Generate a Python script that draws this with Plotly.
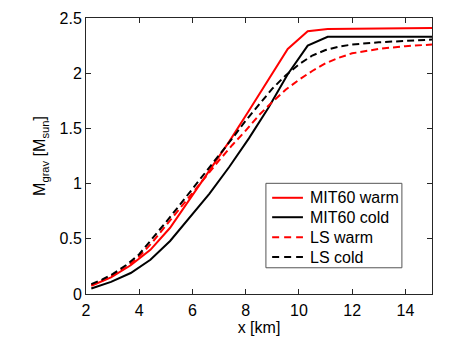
import plotly.graph_objects as go

# MIT60 curves (coarse grid)
x_mit = [2.2, 2.94, 3.68, 4.42, 5.16, 5.9, 6.64, 7.38, 8.12, 8.86, 9.58, 10.33, 11.08, 15.0]
mit60_warm = [0.075, 0.15, 0.26, 0.40, 0.60, 0.86, 1.11, 1.38, 1.66, 1.95, 2.22, 2.38, 2.40, 2.41]
mit60_cold = [0.05, 0.11, 0.19, 0.31, 0.48, 0.69, 0.91, 1.15, 1.41, 1.69, 1.99, 2.25, 2.33, 2.33]

# LS curves (finer grid)
x_ls = [2.2, 2.6, 3.0, 3.5, 4.0, 4.5, 5.0, 5.5, 6.0, 6.5, 7.0, 7.5, 8.0, 8.5, 9.0, 9.5,
        10.0, 10.5, 11.0, 11.5, 12.0, 13.0, 14.0, 15.0]
ls_warm = [0.08, 0.12, 0.17, 0.24, 0.34, 0.47, 0.62, 0.77, 0.92, 1.07, 1.21, 1.35, 1.48, 1.62,
           1.74, 1.85, 1.94, 2.02, 2.09, 2.14, 2.18, 2.22, 2.245, 2.26]
ls_cold = [0.09, 0.13, 0.18, 0.26, 0.36, 0.50, 0.65, 0.80, 0.95, 1.10, 1.25, 1.41, 1.57, 1.72,
           1.86, 1.98, 2.08, 2.16, 2.21, 2.24, 2.26, 2.28, 2.295, 2.305]

series_names = ["MIT60 warm", "MIT60 cold", "LS warm", "LS cold"]
x_ticks = [2, 4, 6, 8, 10, 12, 14]
y_ticks = [0, 0.5, 1, 1.5, 2, 2.5]
y_ticklabels = ["0", "0.5", "1", "1.5", "2", "2.5"]

FONT = "Liberation Sans, Arial, Helvetica, sans-serif"
RED, BLACK = "#ff0000", "#000000"

series = [
    (x_mit, mit60_warm, RED, "solid"),
    (x_mit, mit60_cold, BLACK, "solid"),
    (x_ls, ls_warm, RED, "7px,4px"),
    (x_ls, ls_cold, BLACK, "7px,4px"),
]

fig = go.Figure()
for name, (xs, ys, col, dash) in zip(series_names, series):
    fig.add_trace(go.Scatter(x=xs, y=ys, mode="lines", name=name, hoverinfo="skip",
                             line=dict(color=col, width=2, dash=dash)))

axis_common = dict(
    showgrid=False, zeroline=False, showline=True, linecolor="#262626", linewidth=1,
    mirror="allticks", ticks="inside", ticklen=5, tickcolor="#262626",
    tickfont=dict(family=FONT, size=16, color="#000000"),
)

# Legend drawn as a boxed key (paper coordinates)
box_x0, box_x1, box_y0, box_y1 = 0.520, 0.913, 0.095, 0.401
line_x0, line_x1, text_x = 0.538, 0.627, 0.641
row_y = [0.3486, 0.2782, 0.2060, 0.1338]

shapes = [dict(type="rect", xref="paper", yref="paper", x0=box_x0, x1=box_x1, y0=box_y0, y1=box_y1,
               line=dict(color="#555555", width=1), fillcolor="white", layer="above")]
annotations = []
for name, (xs, ys, col, dash), ry in zip(series_names, series, row_y):
    shapes.append(dict(type="line", xref="paper", yref="paper", x0=line_x0, x1=line_x1, y0=ry, y1=ry,
                       line=dict(color=col, width=2, dash="7px,5px" if dash != "solid" else "solid"),
                       layer="above"))
    annotations.append(dict(text=name, xref="paper", yref="paper", x=text_x, y=ry,
                            xanchor="left", yanchor="middle", showarrow=False,
                            font=dict(family=FONT, size=16, color="#000000")))

fig.update_layout(
    width=463, height=349,
    margin=dict(l=86, r=31, t=10, b=55),
    paper_bgcolor="white", plot_bgcolor="white",
    font=dict(family=FONT, size=16, color="#000000"),
    xaxis=dict(range=[2, 15], tickvals=x_ticks, ticktext=[str(v) for v in x_ticks],
               ticklabelstandoff=2,
               title=dict(text="x [km]", font=dict(family=FONT, size=16), standoff=0),
               **axis_common),
    yaxis=dict(range=[0, 2.5], tickvals=y_ticks, ticktext=y_ticklabels,
               title=dict(text="M<sub>grav</sub> [M<sub>sun</sub>]", font=dict(family=FONT, size=16),
                          standoff=9),
               **axis_common),
    shapes=shapes,
    annotations=annotations,
    showlegend=False,
)

fig.write_html("out.html", config={"displayModeBar": False},
               post_script="document.body.style.margin='0';document.body.style.padding='0';")
